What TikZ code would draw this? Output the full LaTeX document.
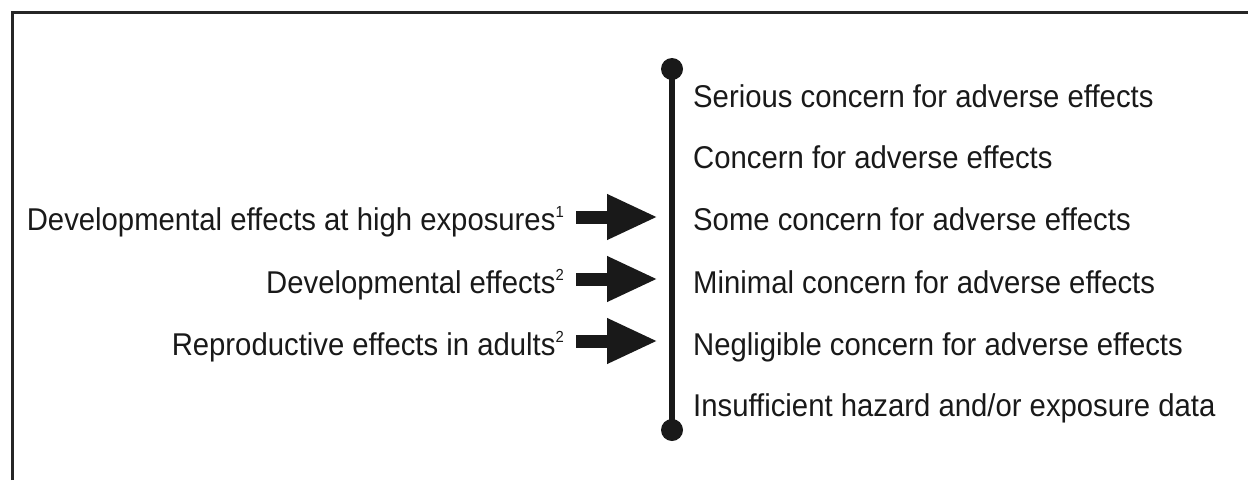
\documentclass[tikz,border=0pt]{standalone}
\usepackage{fontspec}
\setmainfont{Liberation Sans}
\newfontfamily\lblfont[FakeStretch=0.93]{Liberation Sans}
\usetikzlibrary{arrows.meta,positioning}

\newcommand{\supnote}[1]{\raisebox{13pt}{\fontsize{16}{16}\selectfont #1}}

\begin{document}
\begin{tikzpicture}[
  x=1pt, y=-1pt,
  level/.style={anchor=base west, inner sep=0pt, font=\lblfont\fontsize{31.5}{36}\selectfont, text=black!90},
  effect/.style={anchor=base east, inner sep=0pt, font=\lblfont\fontsize{31.5}{36}\selectfont, text=black!90},
  dot/.style={circle, fill=black!90, minimum size=22pt, inner sep=0pt},
  bigarrow/.style={line width=13pt, draw=black!90, -{Triangle[length=51pt, width=42pt]}},
]
\useasboundingbox (0,0) rectangle (1248,480);

% frame (top and left edges only)
\draw[line width=3pt, black!85] (12,480) -- (12,12) -- (1248,12);

% scale of concern
\node[dot] (top) at (672,69) {};
\node[dot] (bot) at (672,430) {};
\draw[line width=6pt, black!90] (top.center) -- (bot.center);

\node[level] (l1) at (693,107) {Serious concern for adverse effects};
\node[level] (l2) at (693,168) {Concern for adverse effects};
\node[level] (l3) at (693,230) {Some concern for adverse effects};
\node[level] (l4) at (693,293) {Minimal concern for adverse effects};
\node[level] (l5) at (693,355) {Negligible concern for adverse effects};
\node[level] (l6) at (693,416) {Insufficient hazard and/or exposure data};

% findings
\node[effect] (e1) at (564,230) {Developmental effects at high exposures\supnote{1}};
\node[effect] (e2) at (564,293) {Developmental effects\supnote{2}};
\node[effect] (e3) at (564,355) {Reproductive effects in adults\supnote{2}};

\coordinate (t1) at ([shift={(-35,-13)}]l3.base west);
\coordinate (t2) at ([shift={(-35,-14)}]l4.base west);
\coordinate (t3) at ([shift={(-35,-14)}]l5.base west);

\draw[bigarrow] ([shift={(12,-13)}]e1.base east) -- (t1);
\draw[bigarrow] ([shift={(12,-14)}]e2.base east) -- (t2);
\draw[bigarrow] ([shift={(12,-14)}]e3.base east) -- (t3);

\end{tikzpicture}
\end{document}
